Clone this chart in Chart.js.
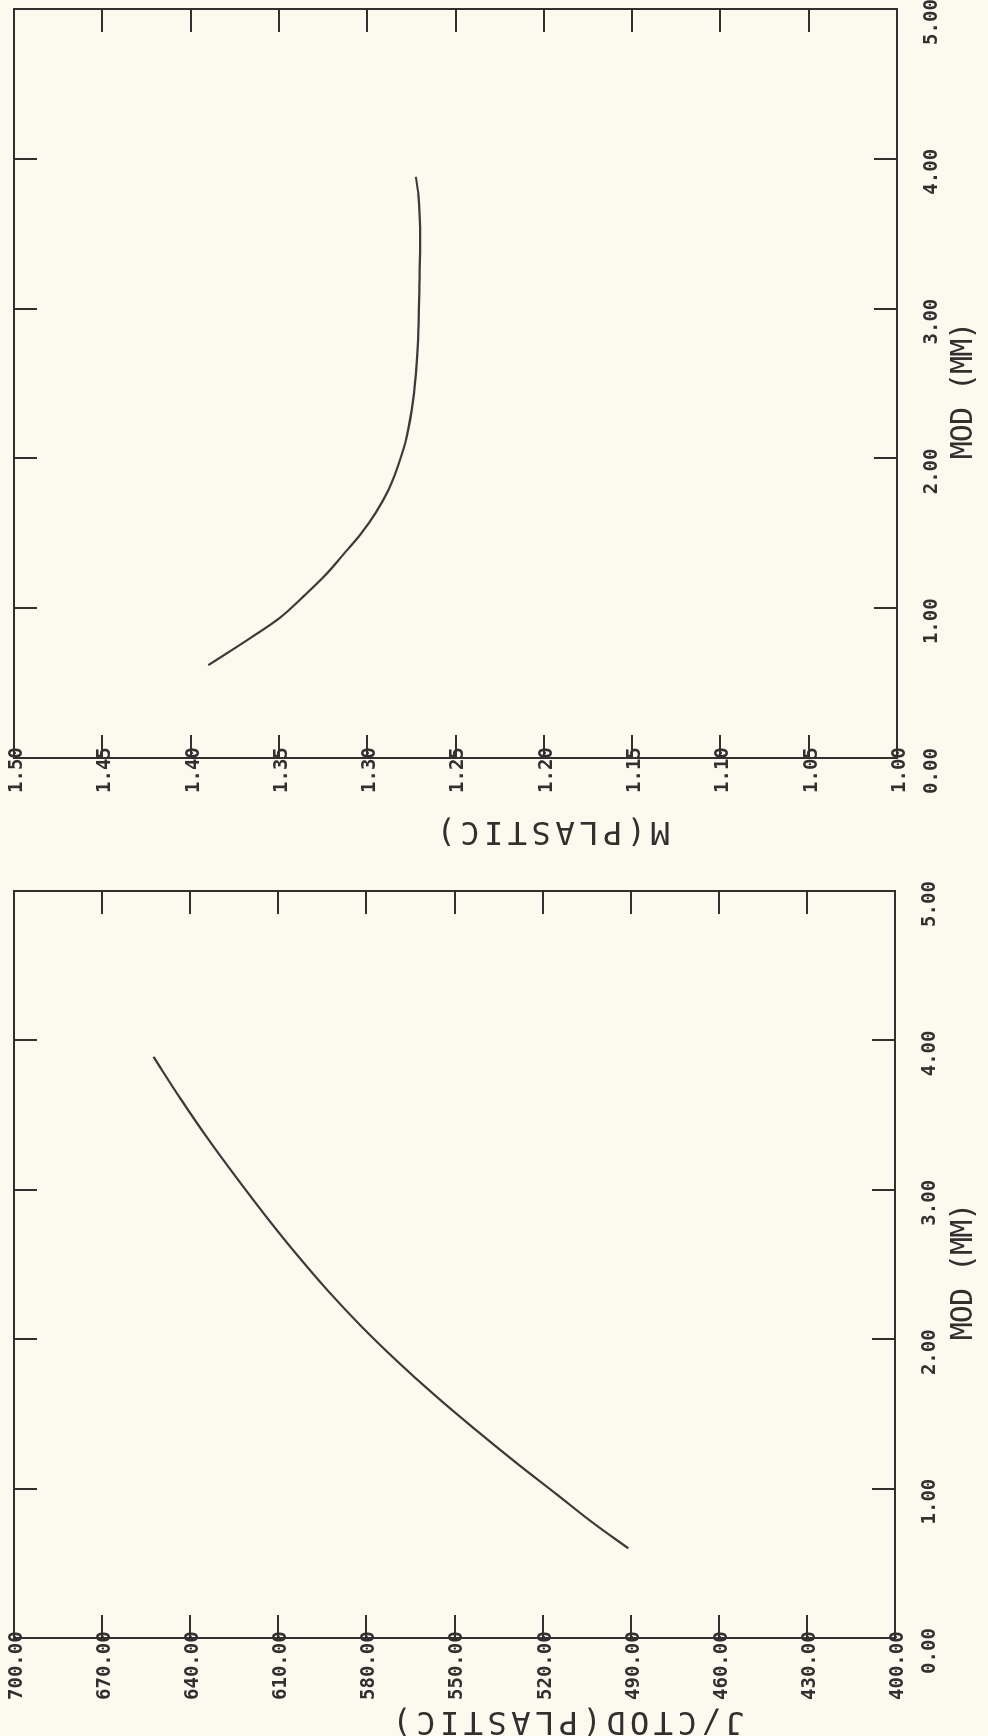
<!DOCTYPE html>
<html>
<head>
<meta charset="utf-8">
<script src="https://cdn.jsdelivr.net/npm/chart.js@4.4.1/dist/chart.umd.min.js"></script>
<style>
  html, body { margin: 0; padding: 0; background: #fbfaef; }
  body { width: 988px; height: 1736px; overflow: hidden; position: relative; }
  /* the plotter page is drawn landscape, then turned a quarter left */
  #page { position: absolute; left: 0; top: 0; width: 1736px; height: 988px;
          transform-origin: 0 0; transform: translate(0, 1736px) rotate(-90deg); }
  #page canvas { position: absolute; top: 0; }
  #jChart { left: 0; }
  #mChart { left: 868px; }
</style>
</head>
<body>
<div id="page">
  <canvas id="jChart" width="868" height="988"></canvas>
  <canvas id="mChart" width="868" height="988"></canvas>
</div>
<script>
// MOD (mm) vs J/CTOD(plastic)
const modJ = [0.60, 0.77, 0.96, 1.17, 1.40, 1.63, 1.86, 2.09, 2.32, 2.55, 2.81, 3.08, 3.34, 3.61, 3.89];
const jPlastic = [490.8, 502.8, 515.1, 528.8, 543.2, 557.0, 569.9, 581.9, 592.9, 603.0, 613.7, 624.2, 633.9, 643.3, 652.5];

// MOD (mm) vs M(plastic)
const modM = [0.62, 0.71, 0.81, 0.94, 1.08, 1.23, 1.38, 1.49, 1.64, 1.79, 1.97, 2.15, 2.39, 2.63, 2.86, 3.16, 3.46, 3.76, 3.88];
const mPlastic = [1.390, 1.378, 1.365, 1.349, 1.336, 1.323, 1.312, 1.304, 1.295, 1.288, 1.282, 1.2775, 1.274, 1.272, 1.271, 1.2705, 1.270, 1.271, 1.2725];

// tick values
const modTicks = [0, 1, 2, 3, 4, 5];
const jTicks = [400, 430, 460, 490, 520, 550, 580, 610, 640, 670, 700];
const mTicks = [1.00, 1.05, 1.10, 1.15, 1.20, 1.25, 1.30, 1.35, 1.40, 1.45, 1.50];

const ink = '#332f2f';
const curveInk = '#3f3a3a';
const mono = '"DejaVu Sans Mono", monospace';

// draws the axis titles where the plotter put them
const axisTitles = {
  id: 'axisTitles',
  afterDraw(chart, args, o) {
    const { ctx, chartArea, scales } = chart;
    ctx.save();
    ctx.fillStyle = ink;
    ctx.textAlign = 'center';
    ctx.textBaseline = 'middle';
    ctx.font = '32px ' + mono;
    ctx.letterSpacing = '4.5px';
    ctx.translate(chartArea.left - o.yGap, scales.y.getPixelForValue(o.yAt));
    ctx.rotate(-Math.PI / 2);
    ctx.fillText(o.yText, 0, 0);
    ctx.restore();

    ctx.save();
    ctx.fillStyle = ink;
    ctx.textAlign = 'center';
    ctx.textBaseline = 'middle';
    ctx.font = '30px ' + mono;
    ctx.letterSpacing = '-1px';
    ctx.fillText(o.xText, scales.x.getPixelForValue(o.xAt), chartArea.bottom + o.xGap);
    ctx.restore();
  }
};

function frameAxis(position, ticks, min, max, size, labels) {
  const horiz = position === 'bottom' || position === 'top';
  const ax = {
    type: 'linear', position, min, max,
    afterBuildTicks: s => { s.ticks = ticks.map(v => ({ value: v })); },
    afterFit: s => {
      if (horiz) s.height = size; else s.width = size;
      s.paddingLeft = 0; s.paddingRight = 0; s.paddingTop = 0; s.paddingBottom = 0;
    },
    border: { display: true, color: ink, width: 2 },
    grid: { drawOnChartArea: false, drawTicks: true, tickLength: -23, color: ink, lineWidth: 2 },
    ticks: { display: false }
  };
  if (labels) {
    ax.ticks = {
      display: true, color: ink, autoSkip: false, minRotation: 0, maxRotation: 0,
      mirror: !!labels.mirror,
      font: { family: mono, size: 19, weight: 'bold' },
      padding: labels.padding, labelOffset: labels.offset,
      callback: v => Number(v).toFixed(2)
    };
  }
  return ax;
}

function renderPlot(element, xs, ys, yTicks, yMin, yMax, box, titles) {
  return new Chart(document.getElementById(element), {
    type: 'line',
    data: {
      datasets: [{
        data: xs.map((x, i) => ({ x: x, y: ys[i] })),
        borderColor: curveInk,
        borderWidth: 2.2,
        pointRadius: 0,
        cubicInterpolationMode: 'monotone',
        fill: false
      }]
    },
    options: {
      responsive: false,
      animation: false,
      devicePixelRatio: 1,
      layout: { padding: { left: 0, top: box.top, right: box.right, bottom: 0 } },
      plugins: { legend: { display: false }, tooltip: { enabled: false }, axisTitles: titles },
      scales: {
        x: frameAxis('bottom', modTicks, 0, 5, box.bottom, { padding: 47, offset: -13 }),
        x2: frameAxis('top', modTicks, 0, 5, 0),
        // labels start left of the frame and run over it, as on the plot
        y: frameAxis('left', yTicks, yMin, yMax, box.left, { mirror: true, padding: box.labelStart, offset: 3 }),
        y2: frameAxis('right', yTicks, yMin, yMax, 0)
      }
    },
    plugins: [axisTitles]
  });
}

renderPlot('jChart', modJ, jPlastic, jTicks, 400, 700,
  { left: 98, right: 23, top: 14, bottom: 93, labelStart: -62 },
  { yText: 'J/CTOD(PLASTIC)', yAt: 512, yGap: 82, xText: 'MOD (MM)', xAt: 2.45, xGap: 69 });

renderPlot('mChart', modM, mPlastic, mTicks, 1.0, 1.5,
  { left: 110, right: 9, top: 14, bottom: 91, labelStart: -35 },
  { yText: 'M(PLASTIC)', yAt: 1.196, yGap: 72, xText: 'MOD (MM)', xAt: 2.45, xGap: 67 });
</script>
</body>
</html>
